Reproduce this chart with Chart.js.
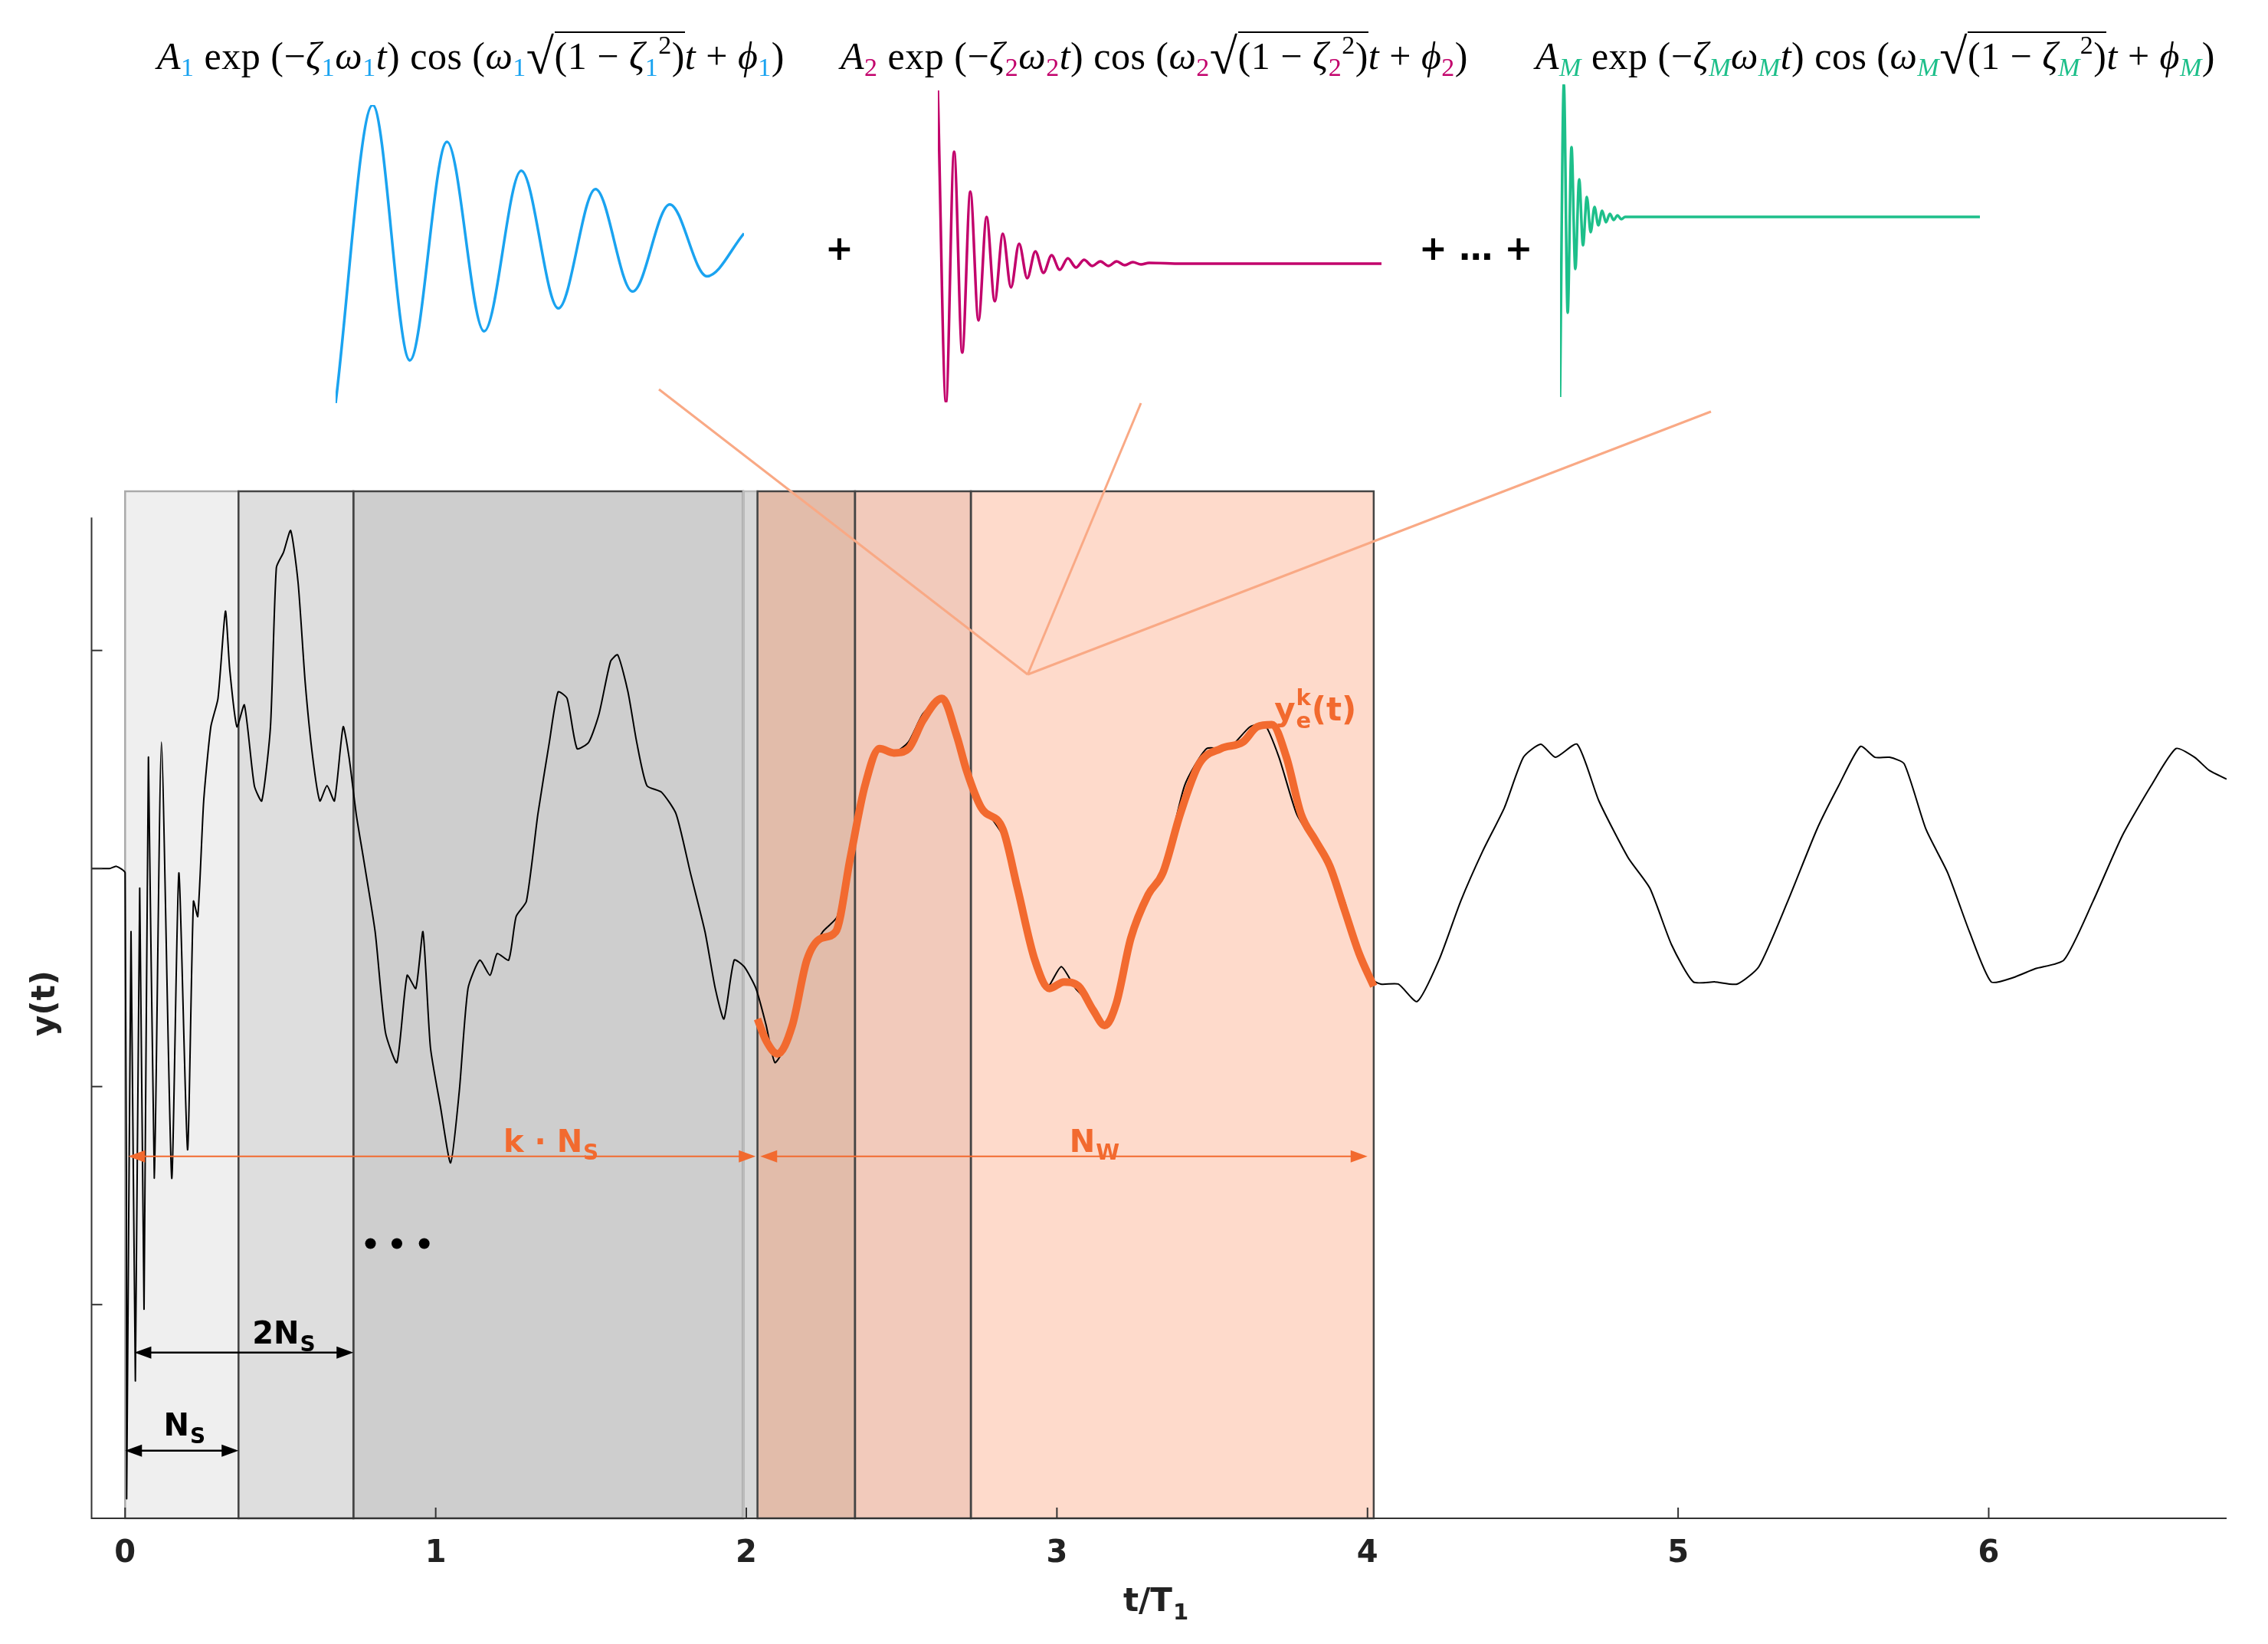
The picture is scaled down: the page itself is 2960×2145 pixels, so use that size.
<!DOCTYPE html>
<html><head><meta charset="utf-8">
<script src="https://cdn.jsdelivr.net/npm/chart.js@4/dist/chart.umd.min.js"></script>
<style>
body{margin:0;width:2960px;height:2145px;background:#fff;position:relative;overflow:hidden}
canvas{position:absolute}
.f{position:absolute;font-family:"Liberation Serif","DejaVu Serif",serif;font-size:50px;white-space:nowrap;color:#000;letter-spacing:0.5px}
.f i{font-style:italic}
.f sub{font-size:34px;vertical-align:-9px;font-style:normal}
.f sup{font-size:34px;vertical-align:20px}
.ov{border-top:2.5px solid #000;padding-top:2px}
.rad{font-size:66px;vertical-align:-6px}
.plus{position:absolute;font-family:"DejaVu Sans",sans-serif;font-weight:bold;font-size:44px}
.b{color:#1aa3f0}.m{color:#c2006b}.g{color:#1dbf8a}
</style></head><body>
<canvas id="main" width="2960" height="2145" style="left:0;top:0"></canvas>
<canvas id="c1" width="533" height="389" style="left:438px;top:137px"></canvas>
<canvas id="c2" width="579" height="407" style="left:1224px;top:118px"></canvas>
<canvas id="c3" width="548" height="408" style="left:2036px;top:110px"></canvas>
<div class="f" style="left:205px;top:36px"><i>A</i><sub class="b">1</sub> exp (−<i>ζ</i><sub class="b">1</sub><i>ω</i><sub class="b">1</sub><i>t</i>) cos (<i>ω</i><sub class="b">1</sub><span class="rad">√</span><span class="ov">(1 − <i>ζ</i><sub class="b">1</sub><sup>2</sup>)</span><i>t</i> + <i>ϕ</i><sub class="b">1</sub>)</div>
<div class="f" style="left:1097px;top:36px"><i>A</i><sub class="m">2</sub> exp (−<i>ζ</i><sub class="m">2</sub><i>ω</i><sub class="m">2</sub><i>t</i>) cos (<i>ω</i><sub class="m">2</sub><span class="rad">√</span><span class="ov">(1 − <i>ζ</i><sub class="m">2</sub><sup>2</sup>)</span><i>t</i> + <i>ϕ</i><sub class="m">2</sub>)</div>
<div class="f" style="left:2004px;top:36px"><i>A</i><sub class="g"><i>M</i></sub> exp (−<i>ζ</i><sub class="g"><i>M</i></sub><i>ω</i><sub class="g"><i>M</i></sub><i>t</i>) cos (<i>ω</i><sub class="g"><i>M</i></sub><span class="rad">√</span><span class="ov">(1 − <i>ζ</i><sub class="g"><i>M</i></sub><sup>2</sup>)</span><i>t</i> + <i>ϕ</i><sub class="g"><i>M</i></sub>)</div>
<div class="plus" style="left:1077px;top:298px">+</div>
<div class="plus" style="left:1852px;top:298px">+ … +</div>
<script>
// main signal
const sigT=[-0.108,-0.05,-0.028,0,0.005,0.019,0.033,0.047,0.061,0.075,0.094,0.117,0.150,0.173,0.201,0.220,0.234,0.253,0.276,0.299,0.323,0.337,0.360,0.384,0.416,0.440,0.468,0.487,0.510,0.533,0.557,0.580,0.604,0.627,0.650,0.674,0.702,0.721,0.744,0.767,0.805,0.838,0.875,0.908,0.936,0.959,0.983,1.015,1.048,1.076,1.104,1.142,1.175,1.198,1.235,1.259,1.292,1.329,1.366,1.394,1.423,1.455,1.493,1.526,1.563,1.586,1.619,1.647,1.680,1.727,1.774,1.820,1.867,1.900,1.928,1.961,1.993,2.031,2.064,2.092,2.124,2.162,2.199,2.246,2.293,2.335,2.382,2.429,2.475,2.522,2.569,2.630,2.677,2.723,2.780,2.826,2.873,2.929,2.967,3.014,3.060,3.107,3.154,3.201,3.248,3.294,3.341,3.411,3.482,3.552,3.622,3.669,3.715,3.772,3.832,3.879,3.926,3.996,4.043,4.099,4.160,4.230,4.300,4.371,4.441,4.502,4.558,4.605,4.675,4.745,4.839,4.909,4.979,5.049,5.119,5.190,5.260,5.353,5.447,5.517,5.587,5.634,5.681,5.728,5.798,5.868,5.938,6.008,6.079,6.149,6.242,6.336,6.430,6.523,6.603,6.663,6.710,6.766];
const sigY=[3.00,3.00,3.01,2.98,0.11,2.71,0.65,2.91,0.98,3.51,1.58,3.58,1.58,2.98,1.71,2.85,2.78,3.31,3.65,3.78,4.18,3.91,3.65,3.75,3.38,3.31,3.65,4.38,4.45,4.55,4.31,3.85,3.51,3.31,3.38,3.31,3.65,3.51,3.25,3.05,2.71,2.25,2.11,2.51,2.45,2.71,2.18,1.91,1.65,1.98,2.45,2.58,2.51,2.61,2.58,2.78,2.85,3.25,3.58,3.81,3.78,3.55,3.58,3.71,3.95,3.98,3.81,3.58,3.38,3.35,3.25,2.98,2.71,2.45,2.31,2.58,2.55,2.45,2.28,2.11,2.18,2.38,2.58,2.71,2.78,3.11,3.38,3.55,3.53,3.58,3.71,3.78,3.58,3.38,3.25,3.15,2.88,2.58,2.45,2.55,2.45,2.38,2.28,2.45,2.71,2.88,2.98,3.38,3.55,3.55,3.65,3.66,3.51,3.25,3.11,3.01,2.85,2.51,2.47,2.47,2.39,2.58,2.85,3.08,3.28,3.51,3.57,3.51,3.57,3.31,3.05,2.91,2.65,2.48,2.48,2.47,2.55,2.85,3.18,3.38,3.56,3.51,3.51,3.48,3.18,2.98,2.71,2.48,2.50,2.54,2.58,2.85,3.15,3.38,3.55,3.51,3.45,3.41];
// fitted window y_e^k
const fitT=[2.036,2.064,2.101,2.148,2.195,2.241,2.288,2.335,2.382,2.429,2.475,2.522,2.569,2.630,2.677,2.709,2.756,2.826,2.873,2.929,2.976,3.023,3.070,3.117,3.154,3.191,3.238,3.294,3.341,3.397,3.458,3.528,3.599,3.645,3.692,3.739,3.786,3.832,3.879,3.926,3.973,4.020];
const fitY=[2.31,2.21,2.15,2.28,2.58,2.68,2.71,3.05,3.38,3.55,3.53,3.55,3.68,3.78,3.61,3.45,3.28,3.18,2.91,2.58,2.45,2.48,2.46,2.35,2.28,2.38,2.68,2.88,2.98,3.25,3.48,3.55,3.58,3.65,3.66,3.51,3.25,3.13,3.01,2.81,2.61,2.46];
// windows
const winStart=[0,0.365,0.735,1.99,2.036,2.35,2.723];
const winEnd=[0.365,0.735,1.99,2.036,2.35,2.723,4.02];
const winColor=['#efefef','#dedede','#cecece','#d8d8d8','#e2bcaa','#f2cabb','#fedacb'];
const xTickVals=[0,1,2,3,4,5,6];
const xTickLabels=['0','1','2','3','4','5','6'];
const yTickVals=[1,2,3,4];
// mini curves (half-period index, relative amplitude)
const blueY=[-1.0,0.95,-0.72,0.71,-0.53,0.52,-0.38,0.40,-0.27,0.30,-0.17,0.11];
const magY=[226,-181,146,-116,94,-74,61,-49,39,-31,26,-19,16,-12,11,-8,7,-5,5,-3,3,-3,3,-2,2,-1,1,0,0];
const magX=[0,1,2,3,4,5,6,7,8,9,10,11,12,13,14,15,16,17,18,19,20,21,22,23,24,25,26,30,54.6];
const grnY=[-235,173,-125,91,-68,49,-37,26,-20,13,-11,8,-7,4,-4,2,-3,0,0];
const grnX=[0,1,2,3,4,5,6,7,8,9,10,11,12,13,14,15,16,17,109.6];

const OR='#f26a2f';
function pts(xs,ys){return xs.map((x,i)=>({x,y:ys[i]}));}
function arrow(ctx,x1,x2,y,col,w){
  ctx.save();ctx.strokeStyle=col;ctx.fillStyle=col;ctx.lineWidth=w;
  ctx.beginPath();ctx.moveTo(x1+4,y);ctx.lineTo(x2-4,y);ctx.stroke();
  const h=22,hw=8;
  ctx.beginPath();ctx.moveTo(x1,y);ctx.lineTo(x1+h,y-hw);ctx.lineTo(x1+h,y+hw);ctx.closePath();ctx.fill();
  ctx.beginPath();ctx.moveTo(x2,y);ctx.lineTo(x2-h,y-hw);ctx.lineTo(x2-h,y+hw);ctx.closePath();ctx.fill();
  ctx.restore();
}
function subText(ctx,main,sub,x,y,col,size){
  ctx.save();ctx.fillStyle=col;ctx.textBaseline='alphabetic';ctx.textAlign='left';
  ctx.font='bold '+size+'px "DejaVu Sans",sans-serif';
  const w1=ctx.measureText(main).width;
  ctx.font='bold '+Math.round(size*0.7)+'px "DejaVu Sans",sans-serif';
  const w2=ctx.measureText(sub).width;
  let sx=x-(w1+w2)/2;
  ctx.font='bold '+size+'px "DejaVu Sans",sans-serif';
  ctx.fillText(main,sx,y);
  ctx.font='bold '+Math.round(size*0.7)+'px "DejaVu Sans",sans-serif';
  ctx.fillText(sub,sx+w1+1,y+size*0.25);
  ctx.restore();
}
const deco={
  id:'deco',
  beforeDatasetsDraw(c){
    const ctx=c.ctx,x=c.scales.x,y=c.scales.y,a=c.chartArea;
    ctx.save();
    for(let i=0;i<winStart.length;i++){
      const l=x.getPixelForValue(winStart[i]),r=x.getPixelForValue(winEnd[i]);
      ctx.fillStyle=winColor[i];ctx.fillRect(l,a.top,r-l,a.bottom-a.top);
    }
    ctx.lineWidth=2.5;
    for(let i=0;i<winStart.length;i++){
      const l=x.getPixelForValue(winStart[i]),r=x.getPixelForValue(winEnd[i]);
      ctx.strokeStyle=i==0?'#aaaaaa':(i==3?'#bbbbbb':'#444444');
      ctx.strokeRect(l,a.top,r-l,a.bottom-a.top);
    }
    ctx.restore();
  },
  afterDatasetsDraw(c){
    const ctx=c.ctx,x=c.scales.x,y=c.scales.y,a=c.chartArea;
    ctx.save();
    ctx.strokeStyle='#f9a985';ctx.lineWidth=3;
    const ax=x.getPixelForValue(2.906),ay=y.getPixelForValue(3.89);
    [[860,508],[1489,526],[2233,537]].forEach(p=>{ctx.beginPath();ctx.moveTo(p[0],p[1]);ctx.lineTo(ax,ay);ctx.stroke();});
    ctx.strokeStyle='#333';ctx.lineWidth=2;
    ctx.beginPath();ctx.moveTo(a.left,y.getPixelForValue(4.61));ctx.lineTo(a.left,a.bottom);ctx.lineTo(a.right,a.bottom);ctx.stroke();
    xTickVals.forEach((v,i)=>{const px=x.getPixelForValue(v);ctx.beginPath();ctx.moveTo(px,a.bottom);ctx.lineTo(px,a.bottom-14);ctx.stroke();
      ctx.fillStyle='#222';ctx.font='bold 40px "DejaVu Sans",sans-serif';ctx.textAlign='center';ctx.textBaseline='middle';ctx.fillText(xTickLabels[i],px,2028);});
    yTickVals.forEach(v=>{const py=y.getPixelForValue(v);ctx.beginPath();ctx.moveTo(a.left,py);ctx.lineTo(a.left+14,py);ctx.stroke();});
    subText(ctx,'t/T','1',1508,2102,'#222',42);
    ctx.save();ctx.translate(60,1309);ctx.rotate(-Math.PI/2);ctx.fillStyle='#222';ctx.font='bold 42px "DejaVu Sans",sans-serif';ctx.textAlign='center';ctx.textBaseline='middle';ctx.fillText('y(t)',0,0);ctx.restore();
    const X=v=>x.getPixelForValue(v),Y=v=>y.getPixelForValue(v);
    arrow(ctx,X(0),X(0.365),Y(0.33),'#000',2.5);
    arrow(ctx,X(0.03),X(0.735),Y(0.78),'#000',2.5);
    arrow(ctx,X(0.01),X(2.03),Y(1.68),OR,2);
    arrow(ctx,X(2.045),X(4.0),Y(1.68),OR,2);
    subText(ctx,'N','S',X(0.19),Y(0.40),'#000',40);
    subText(ctx,'2N','S',X(0.51),Y(0.82),'#000',40);
    subText(ctx,'k · N','S',X(1.37),Y(1.70),OR,40);
    subText(ctx,'N','W',X(3.12),Y(1.70),OR,40);
    ctx.fillStyle=OR;ctx.textBaseline='alphabetic';ctx.textAlign='left';
    let sx=X(3.70),sy=Y(3.68);
    ctx.font='bold 42px "DejaVu Sans",sans-serif';ctx.fillText('y',sx,sy);let w=ctx.measureText('y').width;
    ctx.font='bold 29px "DejaVu Sans",sans-serif';ctx.fillText('k',sx+w+1,sy-20);ctx.fillText('e',sx+w+1,sy+10);
    let w2=ctx.measureText('k').width+2;
    ctx.font='bold 42px "DejaVu Sans",sans-serif';ctx.fillText('(t)',sx+w+w2,sy);
    ctx.fillStyle='#000';[0.79,0.875,0.963].forEach(v=>{ctx.beginPath();ctx.arc(X(v),Y(1.28),7,0,Math.PI*2);ctx.fill();});
    ctx.restore();
  }
};
new Chart(document.getElementById('main'),{
  type:'scatter',
  data:{datasets:[
    {data:pts(sigT,sigY),showLine:true,borderColor:'#000',borderWidth:2,pointRadius:0,tension:0.2,order:2},
    {data:pts(fitT,fitY),showLine:true,borderColor:OR,borderWidth:10,pointRadius:0,cubicInterpolationMode:'monotone',order:1}
  ]},
  options:{responsive:false,animation:false,devicePixelRatio:1,
    layout:{padding:{left:119.5,right:54,top:641,bottom:164}},
    plugins:{legend:{display:false},tooltip:{enabled:false}},
    scales:{x:{type:'linear',min:-0.108,max:6.766,display:false},y:{min:0.02,max:4.73,display:false}}},
  plugins:[deco]
});
function mini(id,xs,ys,col){
  new Chart(document.getElementById(id),{type:'scatter',
    data:{datasets:[{data:pts(xs,ys),showLine:true,borderColor:col,borderWidth:3.5,pointRadius:0,cubicInterpolationMode:'monotone',clip:false}]},
    options:{responsive:false,animation:false,devicePixelRatio:1,layout:{padding:0},
      plugins:{legend:{display:false},tooltip:{enabled:false}},
      scales:{x:{type:'linear',min:Math.min(...xs),max:Math.max(...xs),display:false},y:{min:Math.min(...ys),max:Math.max(...ys),display:false}}}});
}
mini('c1',blueY.map((_,i)=>i),blueY,'#1aa3f0');
mini('c2',magX,magY,'#c2006b');
mini('c3',grnX,grnY,'#1dbf8a');
</script></body></html>
